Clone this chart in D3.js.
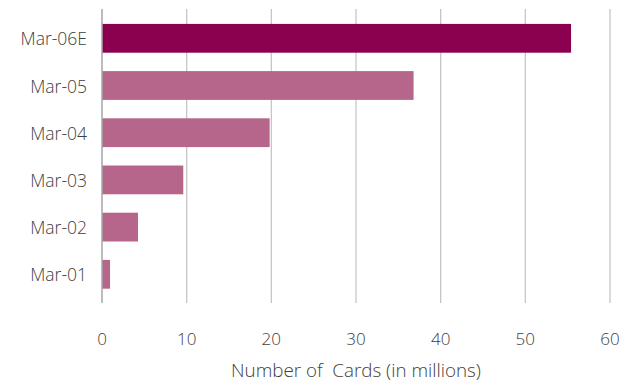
<!DOCTYPE html>
<html>
<head>
<meta charset="utf-8">
<script src="https://cdn.jsdelivr.net/npm/d3@7"></script>
<style>
  html, body { margin: 0; padding: 0; background: #fff; }
  svg text { font-family: "Open Sans", "Segoe UI", sans-serif; font-weight: 350; fill: #404040; }
</style>
</head>
<body>
<svg id="chart" width="622" height="383"></svg>
<script>
// Card base by fiscal year (millions)
const categories = ["Mar-06E", "Mar-05", "Mar-04", "Mar-03", "Mar-02", "Mar-01"];
const cards = [55.4, 36.8, 19.8, 9.6, 4.25, 0.95];
const xTicks = [0, 10, 20, 30, 40, 50, 60];
const xTitle = "Number of  Cards (in millions)";
const estimateLabel = "Mar-06E";

const svg = d3.select("#chart");
const plot = { left: 102, right: 610, top: 9, bottom: 303 };

const x = d3.scaleLinear().domain([0, 60]).range([plot.left, plot.right]);
const y = d3.scaleBand().domain(categories).range([14.7, 297.9]).paddingInner(0.39).paddingOuter(0.195);

// vertical gridlines
svg.append("g").selectAll("line").data(xTicks.slice(1)).join("line")
  .attr("x1", d => x(d)).attr("x2", d => x(d))
  .attr("y1", plot.top).attr("y2", plot.bottom)
  .attr("stroke", "#c6c6c6").attr("stroke-width", 1.3);

// bars
svg.append("g").selectAll("rect").data(categories).join("rect")
  .attr("x", x(0))
  .attr("y", d => y(d))
  .attr("width", (d, i) => x(cards[i]) - x(0))
  .attr("height", y.bandwidth())
  .attr("fill", d => d === estimateLabel ? "#8c0050" : "#b5668a");

// value axis baseline
svg.append("line")
  .attr("x1", x(0)).attr("x2", x(0))
  .attr("y1", plot.top).attr("y2", plot.bottom)
  .attr("stroke", "#a6a6a6").attr("stroke-width", 1.5);

// category labels
svg.append("g").selectAll("text").data(categories).join("text")
  .attr("x", 87)
  .attr("y", d => y(d) + y.bandwidth() / 2)
  .attr("text-anchor", "end")
  .attr("dominant-baseline", "central")
  .style("font-size", "17.5px")
  .text(d => d);

// value tick labels
svg.append("g").selectAll("text").data(xTicks).join("text")
  .attr("x", d => x(d))
  .attr("y", 338)
  .attr("text-anchor", "middle")
  .attr("dominant-baseline", "central")
  .style("font-size", "17px")
  .text(d => d);

// axis title
svg.append("text")
  .attr("x", 356)
  .attr("y", 370)
  .attr("text-anchor", "middle")
  .attr("dominant-baseline", "central")
  .style("font-size", "18.8px")
  .style("white-space", "pre")
  .attr("xml:space", "preserve")
  .text(xTitle);
</script>
</body>
</html>
